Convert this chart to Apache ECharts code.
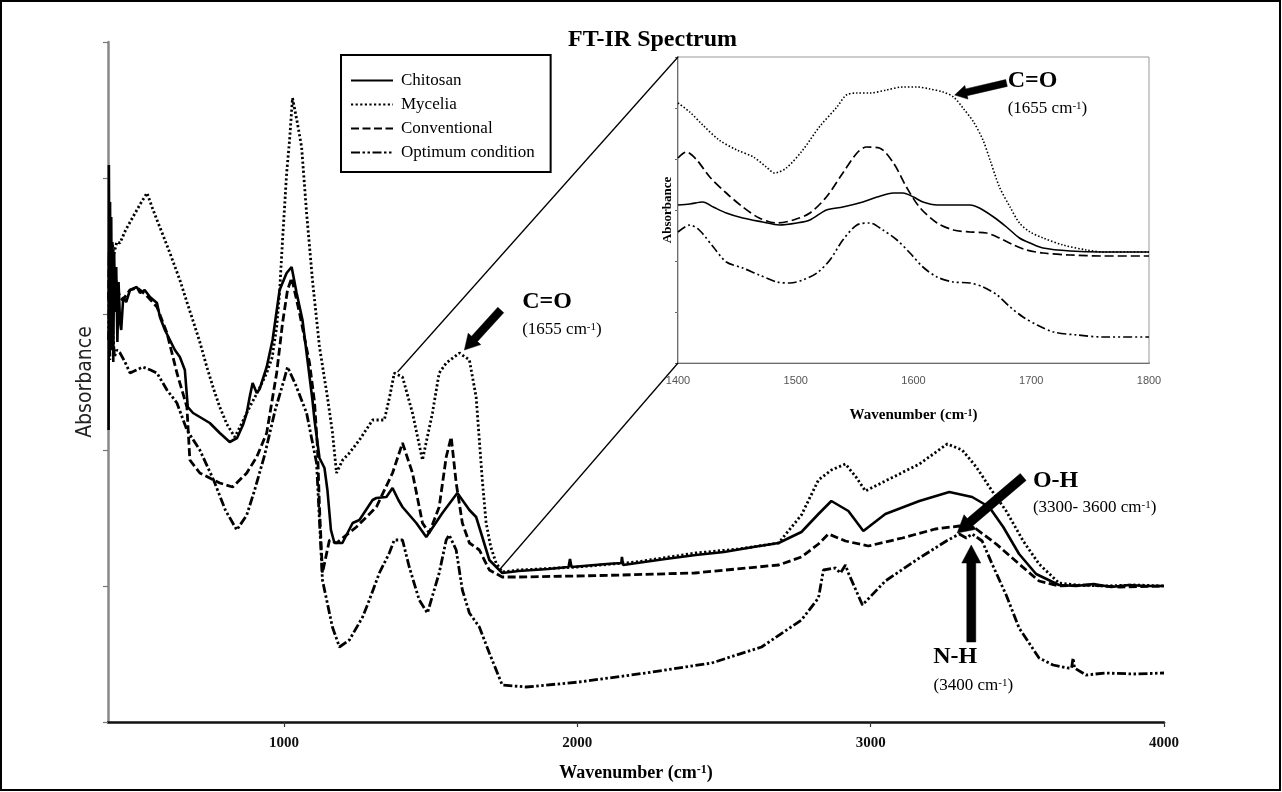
<!DOCTYPE html>
<html><head><meta charset="utf-8">
<script src="https://cdn.jsdelivr.net/npm/echarts/dist/echarts.min.js"></script>
<style>html,body{margin:0;padding:0;background:#fff}#c{width:1282px;height:792px}</style>
</head><body><div id="c"></div>
<script>
// ---------------- DATA (wavenumber, relative absorbance) ----------------
const seriesNames = ['Chitosan', 'Mycelia', 'Conventional', 'Optimum condition'];
const mainXTicks = [1000, 2000, 3000, 4000];
const insetXTicks = [1400, 1500, 1600, 1700, 1800];

const chitosan = [[402,292],[403,557],[405,422],[407,520],[409,372],[411,505],[413,400],[415,480],[418,360],[421,470],[424,410],[428,455],[432,380],[436,440],[441,400],[445,392],[452,425],[462,420],[475,432],[498,435],[509,429],[525,432],[543,425],[567,419],[577,405],[594,392],[611,382],[628,372],[645,365],[662,352],[672,315],[690,309],[713,305],[747,299],[781,289],[815,280],[840,284],[860,297],[873,309],[883,325],[893,339],[907,329],[917,333],[941,355],[961,382],[985,432],[1009,449],[1026,455],[1043,429],[1063,402],[1080,362],[1097,322],[1104,302],[1121,264],[1138,254],[1148,232],[1160,192],[1172,179],[1199,179],[1234,199],[1257,202],[1302,222],[1315,224],[1349,225],[1370,234],[1390,222],[1404,215],[1451,199],[1485,185],[1540,209],[1591,229],[1632,212],[1655,205],[1676,185],[1700,162],[1744,149],[1800,151],[1900,153],[1970,155],[1975,163],[1980,155],[2100,158],[2150,159],[2152,165],[2156,157],[2300,163],[2404,167],[2500,170],[2600,175],[2686,179],[2764,190],[2822,208],[2866,221],[2924,211],[2975,191],[3050,208],[3166,221],[3268,230],[3346,225],[3404,215],[3452,195],[3506,168],[3564,148],[3642,137],[3700,136],[3760,138],[3820,135],[3880,137],[3940,136],[4000,136]];

const mycelia = [[404,440],[406,470],[410,455],[415,478],[420,468],[430,480],[441,479],[460,492],[485,505],[510,518],[533,529],[550,515],[567,502],[590,485],[611,469],[645,442],[669,420],[689,402],[713,380],[737,355],[760,333],[781,315],[805,298],[832,285],[850,295],[883,315],[910,330],[941,349],[960,365],[975,395],[985,430],[995,482],[1003,520],[1009,549],[1019,582],[1029,624],[1045,600],[1060,575],[1077,509],[1097,442],[1121,375],[1148,325],[1165,290],[1179,249],[1200,262],[1223,269],[1257,282],[1302,302],[1342,302],[1360,325],[1376,349],[1404,345],[1438,309],[1472,262],[1506,309],[1529,349],[1553,359],[1598,369],[1632,362],[1655,325],[1676,242],[1689,199],[1705,175],[1723,159],[1744,150],[1800,152],[2000,155],[2200,160],[2404,169],[2550,173],[2686,179],[2764,207],[2822,242],[2866,252],[2914,258],[2950,245],[2982,231],[3050,241],[3166,258],[3261,278],[3312,272],[3360,255],[3414,231],[3462,211],[3520,181],[3574,158],[3642,139],[3700,137],[3800,136],[3900,137],[4000,136]];

const conventional = [[402,422],[404,470],[406,400],[409,455],[412,395],[415,452],[419,415],[424,445],[430,437],[440,425],[450,422],[475,432],[500,434],[530,427],[567,415],[601,389],[635,349],[669,315],[679,262],[713,249],[781,239],[825,235],[873,249],[907,265],[941,289],[975,349],[995,399],[1012,432],[1026,444],[1053,409],[1087,359],[1104,320],[1114,275],[1121,215],[1131,149],[1155,182],[1179,179],[1247,195],[1315,215],[1370,249],[1404,279],[1438,249],[1472,199],[1495,189],[1529,215],[1553,265],[1570,285],[1587,239],[1608,199],[1632,179],[1666,172],[1700,152],[1744,145],[1800,145],[2000,146],[2152,147],[2400,149],[2686,157],[2764,165],[2822,178],[2856,188],[2914,181],[2992,176],[3108,184],[3220,193],[3302,196],[3360,193],[3428,178],[3506,158],[3574,141],[3642,136],[3750,137],[3850,135],[4000,136]];

const optimum = [[402,382],[404,432],[406,362],[409,410],[412,375],[416,392],[422,365],[430,372],[441,369],[458,360],[475,349],[497,352],[519,355],[545,352],[567,349],[601,332],[635,319],[669,292],[713,272],[760,242],[800,212],[839,192],[873,207],[900,232],[934,267],[970,312],[1000,342],[1012,355],[1040,337],[1077,309],[1111,259],[1131,142],[1165,95],[1189,75],[1223,82],[1268,105],[1291,122],[1325,149],[1359,169],[1376,182],[1404,182],[1427,155],[1461,122],[1489,109],[1529,149],[1553,182],[1563,187],[1587,172],[1608,132],[1632,109],[1666,95],[1700,69],[1744,37],[1825,35],[2006,40],[2234,49],[2458,59],[2628,75],[2764,102],[2822,124],[2839,152],[2880,154],[2897,149],[2914,157],[2924,149],[2972,117],[3050,141],[3166,164],[3258,181],[3302,188],[3326,184],[3346,188],[3380,181],[3414,158],[3462,127],[3506,94],[3574,64],[3622,57],[3673,54],[3685,54],[3690,64],[3695,54],[3734,47],[3800,49],[3900,48],[4000,49]];

// inset (1400-1800 cm-1)
const insetChitosan = [[1400,158],[1410,159],[1421,161],[1430,156],[1441,150],[1455,145],[1472,141],[1486,138],[1501,140],[1512,143],[1526,153],[1540,156],[1557,161],[1569,166],[1583,170],[1591,170],[1600,166],[1608,161],[1620,158],[1634,158],[1648,158],[1656,155],[1668,146],[1679,136],[1690,125],[1699,120],[1710,115],[1733,112],[1761,111],[1800,111]];
const insetMycelia = [[1400,260],[1410,251],[1421,238],[1435,223],[1450,213],[1464,206],[1475,196],[1482,190],[1492,195],[1506,213],[1520,236],[1535,256],[1543,268],[1552,270],[1563,270],[1577,273],[1591,276],[1603,276],[1614,274],[1625,271],[1634,266],[1642,255],[1651,241],[1659,223],[1665,203],[1673,176],[1682,156],[1690,140],[1699,131],[1710,125],[1727,118],[1747,113],[1761,111],[1784,111],[1800,111]];
const insetConventional = [[1400,205],[1407,211],[1416,203],[1427,186],[1441,170],[1455,156],[1469,145],[1484,140],[1498,143],[1512,150],[1526,166],[1540,190],[1552,210],[1560,216],[1571,215],[1583,200],[1594,176],[1605,156],[1620,140],[1634,133],[1648,131],[1662,130],[1673,125],[1685,118],[1696,113],[1710,110],[1733,108],[1761,107],[1800,107]];
const insetOptimum = [[1400,131],[1410,138],[1418,133],[1430,116],[1441,101],[1455,95],[1469,88],[1484,81],[1495,80],[1506,83],[1518,90],[1529,103],[1540,123],[1552,138],[1563,140],[1574,133],[1586,123],[1597,110],[1608,96],[1620,86],[1634,81],[1648,80],[1659,76],[1671,68],[1682,56],[1693,46],[1705,38],[1719,31],[1739,28],[1761,26],[1800,26]];

// ---------------- STYLE ----------------
const SERIF = '"Liberation Serif","Times New Roman",serif';
const mainStyles = [
  {type: 'solid', width: 2.6},
  {type: [2.2, 2.4], width: 2.8},
  {type: [8, 3.5], width: 2.8},
  {type: [9, 2.5, 2.5, 2.5, 2.5, 2.5], width: 2.8}
];
const insetStyles = [
  {type: 'solid', width: 1.6},
  {type: [1.5, 2], width: 1.6},
  {type: [9, 4], width: 1.7},
  {type: [9, 3, 2, 3, 2, 3], width: 1.7}
];
const mainData = [chitosan, mycelia, conventional, optimum];
const insetData = [insetChitosan, insetMycelia, insetConventional, insetOptimum];

const chart = echarts.init(document.getElementById('c'), null, {renderer: 'canvas'});
const series = [];
mainData.forEach((d, i) => series.push({
  name: seriesNames[i], type: 'line', xAxisIndex: 0, yAxisIndex: 0, data: d,
  symbol: 'none', smooth: false, animation: false, z: 3,
  itemStyle: {color: '#000'},
  lineStyle: {color: '#000', width: mainStyles[i].width, type: mainStyles[i].type}
}));
insetData.forEach((d, i) => series.push({
  name: seriesNames[i], type: 'line', xAxisIndex: 1, yAxisIndex: 1, data: d,
  symbol: 'none', smooth: 0.3, animation: false, z: 3,
  itemStyle: {color: '#000'},
  lineStyle: {color: '#000', width: insetStyles[i].width, type: insetStyles[i].type}
}));

const supRich = (size, bold) => ({s: {fontSize: size, fontFamily: SERIF, fontWeight: bold ? 'bold' : 'normal', color: '#000', verticalAlign: 'top', lineHeight: size + 4}});
const plain = v => String(v);

chart.setOption({
  animation: false,
  backgroundColor: '#fff',
  title: {text: 'FT-IR Spectrum', left: 568, top: 28, padding: 0,
    textStyle: {fontFamily: SERIF, fontWeight: 'bold', fontSize: 24, color: '#000'}},
  legend: {
    data: seriesNames, orient: 'vertical', left: 341, top: 55,
    itemWidth: 42, itemHeight: 14, itemGap: 7, padding: [17, 16, 11, 9],
    borderColor: '#000', borderWidth: 2, backgroundColor: '#fff',
    selectedMode: false,
    itemStyle: {color: 'rgba(0,0,0,0)', borderWidth: 0, opacity: 0},
    textStyle: {fontFamily: SERIF, fontSize: 17, color: '#000', padding: [0, 0, 0, 3]}
  },
  grid: [
    {left: 108, top: 42, right: 118, bottom: 70},
    {left: 678, top: 57, width: 471, height: 306, show: true, borderColor: '#999', borderWidth: 1, backgroundColor: '#fff', z: 2}
  ],
  xAxis: [
    {type: 'value', gridIndex: 0, min: 400, max: 4000,
      axisLine: {lineStyle: {color: '#111', width: 2.5}},
      axisTick: {show: true, length: 5, customValues: mainXTicks, lineStyle: {color: '#333', width: 1.2}},
      axisLabel: {customValues: mainXTicks, formatter: plain, margin: 14, fontFamily: SERIF, fontWeight: 'bold', fontSize: 15, color: '#111'},
      splitLine: {show: false},
      name: 'Wavenumber (cm{s|-1})', nameLocation: 'middle', nameGap: 42,
      nameTextStyle: {fontFamily: SERIF, fontWeight: 'bold', fontSize: 18, color: '#000', rich: supRich(12, true)}
    },
    {type: 'value', gridIndex: 1, min: 1400, max: 1800, interval: 100,
      axisLine: {lineStyle: {color: '#000', width: 1.5}},
      axisTick: {show: false},
      axisLabel: {formatter: plain, margin: 12, fontFamily: '"Liberation Sans",Arial,sans-serif', fontSize: 11, color: '#555'},
      splitLine: {show: false},
      name: 'Wavenumber (cm{s|-1})', nameLocation: 'middle', nameGap: 45,
      nameTextStyle: {fontFamily: SERIF, fontWeight: 'bold', fontSize: 15, color: '#000', rich: supRich(10, true)}
    }
  ],
  yAxis: [
    {type: 'value', gridIndex: 0, min: 0, max: 680, interval: 136,
      axisLine: {show: true, lineStyle: {color: '#888', width: 2.5}},
      axisTick: {show: true, length: 5, lineStyle: {color: '#777', width: 1.2}},
      axisLabel: {show: false}, splitLine: {show: false},
      name: 'Absorbance', nameLocation: 'middle', nameGap: 12,
      nameTextStyle: {fontFamily: '"Liberation Sans Narrow","DejaVu Sans Condensed","Liberation Sans",sans-serif', fontSize: 21, color: '#222'}
    },
    {type: 'value', gridIndex: 1, min: 0, max: 306, interval: 51,
      axisLine: {show: true, lineStyle: {color: '#000', width: 1.5}},
      axisTick: {show: true, length: 3, lineStyle: {color: '#666'}},
      axisLabel: {show: false}, splitLine: {show: false},
      name: 'Absorbance', nameLocation: 'middle', nameGap: 4,
      nameTextStyle: {fontFamily: SERIF, fontWeight: 'bold', fontSize: 13, color: '#000'}
    }
  ],
  series: series
});

// --------------- annotations (positioned in data coordinates) ---------------
const M = {xAxisIndex: 0, yAxisIndex: 0};
const I = {xAxisIndex: 1, yAxisIndex: 1};
const px = (f, v) => chart.convertToPixel(f, v);

function arrowPoly(p0, p1, shaft, headW, headL) {
  const dx = p1[0] - p0[0], dy = p1[1] - p0[1];
  const L = Math.hypot(dx, dy), ux = dx / L, uy = dy / L, nx = -uy, ny = ux;
  const bx = p1[0] - ux * headL, by = p1[1] - uy * headL;
  return [
    [p0[0] + nx * shaft / 2, p0[1] + ny * shaft / 2],
    [bx + nx * shaft / 2, by + ny * shaft / 2],
    [bx + nx * headW / 2, by + ny * headW / 2],
    [p1[0], p1[1]],
    [bx - nx * headW / 2, by - ny * headW / 2],
    [bx - nx * shaft / 2, by - ny * shaft / 2],
    [p0[0] - nx * shaft / 2, p0[1] - ny * shaft / 2]
  ];
}
function arrow(f, from, to, shaft, headW, headL) {
  return {type: 'polygon', z: 100, shape: {points: arrowPoly(px(f, from), px(f, to), shaft, headW, headL)}, style: {fill: '#000', stroke: '#000', lineWidth: 0.5}};
}
function label(f, at, text, size, bold, align) {
  const p = px(f, at);
  return {type: 'text', z: 100, x: p[0], y: p[1],
    style: {text: text, fontFamily: SERIF, fontSize: size, fontWeight: bold ? 'bold' : 'normal', fill: '#000',
      align: align || 'left', verticalAlign: 'middle', textAlign: align || 'left', textVerticalAlign: 'middle',
      rich: {s: {fontSize: Math.round(size * 0.62), fontFamily: SERIF, fill: '#000', verticalAlign: 'top', lineHeight: size}}}};
}
function seg(a, b) {
  return {type: 'line', z: 50, shape: {x1: a[0], y1: a[1], x2: b[0], y2: b[1]}, style: {stroke: '#000', lineWidth: 1.3}};
}

const graphics = [
  // zoom connector lines
  seg(px(M, [1387, 350]), px(I, [1400, 306])),
  seg(px(M, [1734, 152]), px(I, [1400, 0])),
  // arrows
  arrow(M, [1739, 412], [1615, 372], 8, 17, 15),
  arrow(I, [1679, 280], [1635, 268], 7, 14, 12),
  arrow(M, [3520, 245], [3295, 189], 9, 19, 17),
  arrow(M, [3343, 80], [3343, 177], 9, 19, 18),
  // texts
  label(M, [1812, 420], 'C=O', 24, true),
  label(M, [1812, 392], '(1655 cm{s|-1})', 17, false),
  label(I, [1680, 282], 'C=O', 24, true),
  label(I, [1680, 254], '(1655 cm{s|-1})', 17, false),
  label(M, [3553, 241], 'O-H', 24, true),
  label(M, [3553, 214], '(3300- 3600 cm{s|-1})', 17, false),
  label(M, [3288, 65], 'N-H', 24, true, 'center'),
  label(M, [3350, 36], '(3400 cm{s|-1})', 17, false, 'center'),
  // outer frame
  {type: 'rect', z: 200, shape: {x: 1, y: 1, width: 1279, height: 789}, style: {fill: 'none', stroke: '#000', lineWidth: 2}}
];
chart.setOption({graphic: graphics});
</script></body></html>
